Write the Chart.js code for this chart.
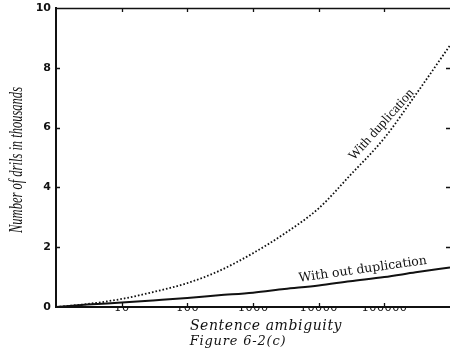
<!DOCTYPE html>
<html>
<head>
<meta charset="utf-8">
<script src="https://cdn.jsdelivr.net/npm/chart.js@4/dist/chart.umd.min.js"></script>
<style>
  html, body { margin: 0; padding: 0; background: #fff; }
  #wrap { width: 450px; height: 349px; position: relative; }
</style>
</head>
<body>
<div id="wrap"><canvas id="c"></canvas></div>
<script>
// ---- data ----
const xValues = [1, 3, 10, 30, 100, 300, 1000, 3000, 10000, 30000, 100000, 300000, 1000000];
const withDuplication = [0, 0.1, 0.27, 0.5, 0.8, 1.2, 1.8, 2.45, 3.3, 4.4, 5.65, 7.1, 8.75];
const withoutDuplication = [0, 0.08, 0.15, 0.22, 0.3, 0.39, 0.48, 0.6, 0.72, 0.86, 1.0, 1.16, 1.32];
const xTickValues = [10, 100, 1000, 10000, 100000];
const xTickLabels = ['10', '100', '1000', '10000', '100000'];
const yTickValues = [0, 2, 4, 6, 8, 10];
const xTitle = 'Sentence ambiguity';
const figureCaption = 'Figure 6-2(c)';
const yTitle = 'Number of drils in thousands';
const labelWith = 'With duplication';
const labelWithout = 'With out duplication';

const INK = '#111';

const framePlugin = {
  id: 'frame',
  afterDraw(chart) {
    const ctx = chart.ctx;
    const a = chart.chartArea;
    const xs = chart.scales.x, ys = chart.scales.y;
    ctx.save();
    ctx.strokeStyle = INK;
    // top border
    ctx.lineWidth = 1.5;
    ctx.beginPath();
    ctx.moveTo(a.left, a.top + 0.5);
    ctx.lineTo(a.right, a.top + 0.5);
    ctx.stroke();
    ctx.lineWidth = 1.3;
    ctx.beginPath();
    xTickValues.forEach(v => {
      const px = Math.round(xs.getPixelForValue(v)) + 0.5;
      ctx.moveTo(px, a.top); ctx.lineTo(px, a.top + 4);
      ctx.moveTo(px, a.bottom); ctx.lineTo(px, a.bottom - 4);
    });
    yTickValues.forEach(v => {
      if (v === 0 || v === 10) return;
      const py = Math.round(ys.getPixelForValue(v)) + 0.5;
      ctx.moveTo(a.left, py); ctx.lineTo(a.left + 4, py);
      ctx.moveTo(a.right, py); ctx.lineTo(a.right - 4, py);
    });
    ctx.stroke();

    // axis titles
    ctx.fillStyle = INK;
    ctx.textAlign = 'center';
    ctx.textBaseline = 'alphabetic';
    ctx.font = 'italic 14px "DejaVu Serif"';
    ctx.letterSpacing = '0.6px';
    ctx.fillText(xTitle, 266, 330);
    ctx.font = 'italic 13px "DejaVu Serif"';
    ctx.letterSpacing = '0.8px';
    ctx.fillText(figureCaption, 238, 345);
    ctx.letterSpacing = '0px';

    // y title (rotated, condensed)
    ctx.save();
    ctx.translate(22, 160);
    ctx.rotate(-Math.PI / 2);
    ctx.font = 'italic 18px "Liberation Sans Narrow", "Liberation Serif"';
    const w = ctx.measureText(yTitle).width;
    ctx.scale(146 / w, 1);
    ctx.fillText(yTitle, 0, 0);
    ctx.restore();

    // curve labels anchored to data coordinates
    ctx.save();
    ctx.translate(xs.getPixelForValue(91000), ys.getPixelForValue(6.1));
    ctx.rotate(-48 * Math.PI / 180);
    ctx.font = '13.5px "Liberation Serif"';
    ctx.textBaseline = 'middle';
    ctx.fillText(labelWith, 0, 0);
    ctx.restore();

    ctx.save();
    ctx.translate(xs.getPixelForValue(47000), ys.getPixelForValue(1.25));
    ctx.rotate(-8 * Math.PI / 180);
    ctx.font = '12.5px "DejaVu Serif"';
    ctx.textBaseline = 'middle';
    ctx.fillText(labelWithout, 0, 0);
    ctx.restore();

    ctx.restore();
  }
};

new Chart(document.getElementById('c'), {
  type: 'line',
  data: {
    datasets: [
      {
        label: labelWith,
        data: xValues.map((x, i) => ({ x, y: withDuplication[i] })),
        borderColor: INK,
        borderWidth: 1.8,
        borderDash: [1.6, 2],
        pointRadius: 0,
        cubicInterpolationMode: 'monotone',
        fill: false
      },
      {
        label: labelWithout,
        data: xValues.map((x, i) => ({ x, y: withoutDuplication[i] })),
        borderColor: INK,
        borderWidth: 2,
        pointRadius: 0,
        cubicInterpolationMode: 'monotone',
        fill: false
      }
    ]
  },
  options: {
    responsive: true,
    maintainAspectRatio: false,
    animation: false,
    layout: { padding: { top: 8, right: 0, left: 0, bottom: 0 } },
    plugins: { legend: { display: false }, tooltip: { enabled: false } },
    scales: {
      x: {
        type: 'logarithmic',
        min: 1,
        max: 1000000,
        position: 'bottom',
        afterBuildTicks(scale) { scale.ticks = xTickValues.map(v => ({ value: v })); },
        afterFit(scale) { scale.height = 42; scale.paddingLeft = 0; scale.paddingRight = 0; },
        grid: { display: false, drawTicks: false },
        border: { display: true, color: INK, width: 2 },
        ticks: {
          autoSkip: false,
          maxRotation: 0,
          padding: -6,
          color: INK,
          font: { family: 'DejaVu Serif', size: 12 },
          callback(value) {
            const i = xTickValues.indexOf(value);
            return i >= 0 ? xTickLabels[i] : '';
          }
        }
      },
      y: {
        type: 'linear',
        min: 0,
        max: 10,
        afterBuildTicks(scale) { scale.ticks = yTickValues.map(v => ({ value: v })); },
        afterFit(scale) { scale.width = 56; scale.paddingTop = 0; scale.paddingBottom = 0; },
        grid: { display: false, drawTicks: false },
        border: { display: true, color: INK, width: 2 },
        ticks: {
          padding: 5,
          color: INK,
          font: { family: 'DejaVu Sans', size: 11, weight: 'bold' }
        }
      }
    }
  },
  plugins: [framePlugin]
});
</script>
</body>
</html>
